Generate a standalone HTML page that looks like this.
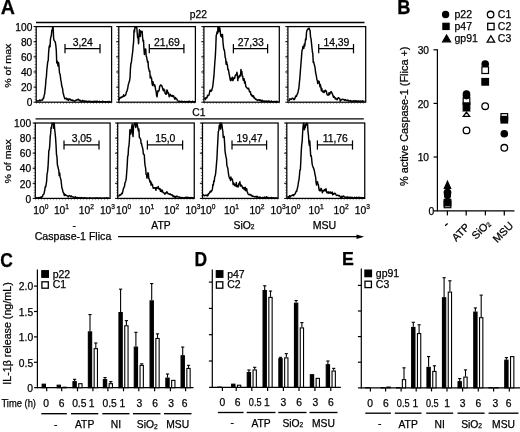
<!DOCTYPE html>
<html><head><meta charset="utf-8"><style>
html,body{margin:0;padding:0;background:#fff;}
svg{display:block;filter:grayscale(1) blur(0.3px);}
text{font-family:"Liberation Sans",sans-serif;fill:#000;stroke:#000;stroke-width:0.25px;}
</style></head><body>
<svg width="520" height="432" viewBox="0 0 520 432">
<rect width="520" height="432" fill="#fff"/>
<text x="0.70" y="13.80" font-size="20" font-weight="bold" textLength="14.2" lengthAdjust="spacingAndGlyphs" >A</text>
<text x="198.40" y="17.90" font-size="10.3" text-anchor="middle" >p22</text>
<line x1="36.00" y1="22.50" x2="364.50" y2="22.50" stroke="#000" stroke-width="1.3" />
<text x="198.90" y="115.50" font-size="10.3" text-anchor="middle" >C1</text>
<line x1="35.50" y1="118.90" x2="363.80" y2="118.90" stroke="#000" stroke-width="1.3" />
<line x1="35.30" y1="26.60" x2="35.30" y2="102.20" stroke="#777" stroke-width="1.6" stroke-dasharray="0.7 2.2"/>
<line x1="36.20" y1="103.20" x2="111.60" y2="103.20" stroke="#888" stroke-width="1.6" stroke-dasharray="0.7 2.3"/>
<polyline points="36.50,101.00 36.95,100.84 37.40,100.97 37.85,101.13 38.30,100.92 38.75,101.06 39.20,100.61 39.65,100.06 40.10,100.70 40.55,100.69 41.00,100.15 41.45,99.99 41.90,99.88 42.35,100.15 42.80,99.51 43.25,97.97 43.70,98.15 44.15,95.34 44.60,94.15 45.05,89.94 45.50,86.03 45.95,79.39 46.40,76.64 46.85,69.78 47.30,65.60 47.75,61.68 48.20,60.72 48.65,52.07 49.10,47.10 49.55,45.33 50.00,46.89 50.45,39.41 50.90,36.59 51.35,35.59 51.80,30.35 52.25,30.36 52.70,26.90 53.15,27.80 53.60,37.61 54.05,40.30 54.50,40.95 54.95,41.33 55.40,42.80 55.85,45.66 56.30,50.48 56.75,62.92 57.20,61.12 57.65,63.62 58.10,66.11 58.55,62.43 59.00,66.25 59.45,72.73 59.90,73.71 60.35,76.05 60.80,80.10 61.25,81.84 61.70,85.73 62.15,87.25 62.60,88.69 63.05,93.01 63.50,94.10 63.95,96.37 64.40,97.22 64.85,98.71 65.30,98.86 65.75,98.76 66.20,98.26 66.65,98.26 67.10,99.71 67.55,99.50 68.00,98.82 68.45,100.26 68.90,99.55 69.35,99.44 69.80,98.84 70.25,99.28 70.70,99.97 71.15,100.18 71.60,100.33 72.05,99.80 72.50,100.65 72.95,100.68 73.40,100.50 73.85,100.75 74.30,100.85 74.75,101.25 75.20,100.81 75.65,100.76 76.10,99.90 76.55,99.87 77.00,99.95 77.45,99.40 77.90,99.83 78.35,99.34 78.80,99.98 79.25,99.88 79.70,100.82 80.15,100.30 80.60,101.23 81.05,101.48 81.50,101.00 81.95,101.24 82.40,100.92 82.85,100.29 83.30,101.32 83.75,101.29 84.20,101.07 84.65,101.03 85.10,101.27 85.55,101.32 86.00,101.09 86.45,101.19 86.90,101.66 87.35,101.42 87.80,101.40 88.25,101.70 88.70,101.36 89.15,101.66 89.60,101.19 90.05,101.40 90.50,101.43 90.95,101.62 91.40,101.50 91.85,101.99 92.30,101.77 92.75,101.40 93.20,102.03 93.65,101.30 94.10,101.95 94.55,101.34 95.00,101.74 95.45,101.35 95.90,101.51 96.35,101.92 96.80,101.26 97.25,101.23 97.70,101.59 98.15,101.65 98.60,101.63 99.05,101.83 99.50,101.35 99.95,101.74 100.40,101.63 100.85,101.81 101.30,101.78 101.75,101.93 102.20,101.37 102.65,101.69 103.10,101.46 103.55,101.67 104.00,101.83 104.45,101.76 104.90,101.82 105.35,101.70 105.80,101.79 106.25,101.78 106.70,102.01 107.15,101.90 107.60,101.41 108.05,101.89 108.50,101.97 108.95,101.70 109.40,101.50 109.85,102.06 110.30,101.83 110.75,101.92" fill="none" stroke="#000" stroke-width="1.45" stroke-linejoin="round"/>
<rect x="36.20" y="26.60" width="75.40" height="75.60" fill="none" stroke="#000" stroke-width="1.25"/>
<line x1="65.00" y1="48.60" x2="100.00" y2="48.60" stroke="#000" stroke-width="1.25" />
<line x1="65.00" y1="44.10" x2="65.00" y2="53.30" stroke="#000" stroke-width="1.25" />
<line x1="100.00" y1="44.10" x2="100.00" y2="53.30" stroke="#000" stroke-width="1.25" />
<text x="82.80" y="45.70" font-size="10.4" text-anchor="middle" >3,24</text>
<line x1="117.90" y1="26.60" x2="117.90" y2="102.20" stroke="#777" stroke-width="1.6" stroke-dasharray="0.7 2.2"/>
<line x1="118.80" y1="103.20" x2="195.40" y2="103.20" stroke="#888" stroke-width="1.6" stroke-dasharray="0.7 2.3"/>
<polyline points="119.20,100.12 119.65,97.92 120.10,97.68 120.55,97.48 121.00,97.88 121.45,96.94 121.90,97.25 122.35,96.50 122.80,96.75 123.25,96.58 123.70,94.79 124.15,96.33 124.60,95.88 125.05,95.51 125.50,95.23 125.95,94.29 126.40,91.91 126.85,91.44 127.30,89.90 127.75,88.27 128.20,85.05 128.65,83.75 129.10,81.85 129.55,80.86 130.00,77.78 130.45,68.59 130.90,63.57 131.35,62.60 131.80,58.54 132.25,55.01 132.70,51.60 133.15,46.17 133.60,41.87 134.05,30.09 134.50,31.96 134.95,26.90 135.40,26.90 135.85,27.49 136.30,26.90 136.75,26.90 137.20,32.59 137.65,37.70 138.10,36.70 138.55,43.70 139.00,35.28 139.45,29.76 139.90,35.45 140.35,36.49 140.80,30.95 141.25,31.84 141.70,32.12 142.15,31.42 142.60,37.41 143.05,41.25 143.50,40.29 143.95,48.73 144.40,54.51 144.85,49.54 145.30,49.13 145.75,48.94 146.20,56.43 146.65,57.01 147.10,59.80 147.55,62.15 148.00,61.34 148.45,67.68 148.90,69.02 149.35,71.36 149.80,70.79 150.25,78.01 150.70,76.07 151.15,77.98 151.60,78.32 152.05,83.40 152.50,85.43 152.95,81.75 153.40,83.83 153.85,84.62 154.30,85.99 154.75,84.85 155.20,86.86 155.65,89.97 156.10,91.06 156.55,95.27 157.00,96.79 157.45,93.58 157.90,90.82 158.35,90.89 158.80,91.02 159.25,89.67 159.70,86.10 160.15,85.99 160.60,84.89 161.05,84.99 161.50,85.82 161.95,86.01 162.40,87.68 162.85,89.27 163.30,90.61 163.75,88.95 164.20,90.97 164.65,90.03 165.10,93.41 165.55,93.67 166.00,94.31 166.45,94.16 166.90,89.92 167.35,90.65 167.80,92.93 168.25,92.61 168.70,93.88 169.15,96.76 169.60,94.39 170.05,94.65 170.50,94.53 170.95,95.94 171.40,95.77 171.85,96.17 172.30,95.43 172.75,96.21 173.20,96.60 173.65,95.79 174.10,97.67 174.55,98.00 175.00,99.29 175.45,97.57 175.90,98.23 176.35,98.56 176.80,99.17 177.25,100.13 177.70,100.68 178.15,101.08 178.60,101.29 179.05,101.46 179.50,101.13 179.95,101.37 180.40,101.53 180.85,101.67 181.30,101.68 181.75,101.14 182.20,101.42 182.65,101.53 183.10,101.63 183.55,101.82 184.00,101.58 184.45,101.36 184.90,101.67 185.35,101.63 185.80,101.64 186.25,101.56 186.70,101.97 187.15,101.66 187.60,101.80 188.05,101.41 188.50,101.79 188.95,101.49 189.40,101.28 189.85,101.71 190.30,101.78 190.75,101.60 191.20,101.65 191.65,101.88 192.10,101.56 192.55,101.23 193.00,101.73 193.45,101.72 193.90,101.91 194.35,101.62 194.80,101.96" fill="none" stroke="#000" stroke-width="1.45" stroke-linejoin="round"/>
<rect x="118.80" y="26.60" width="76.60" height="75.60" fill="none" stroke="#000" stroke-width="1.25"/>
<line x1="149.30" y1="48.60" x2="183.90" y2="48.60" stroke="#000" stroke-width="1.25" />
<line x1="149.30" y1="44.10" x2="149.30" y2="53.30" stroke="#000" stroke-width="1.25" />
<line x1="183.90" y1="44.10" x2="183.90" y2="53.30" stroke="#000" stroke-width="1.25" />
<text x="166.90" y="45.70" font-size="10.4" text-anchor="middle" >21,69</text>
<line x1="203.00" y1="26.60" x2="203.00" y2="102.20" stroke="#777" stroke-width="1.6" stroke-dasharray="0.7 2.2"/>
<line x1="203.90" y1="103.20" x2="279.30" y2="103.20" stroke="#888" stroke-width="1.6" stroke-dasharray="0.7 2.3"/>
<polyline points="204.50,99.14 204.95,98.01 205.40,99.44 205.85,98.15 206.30,97.54 206.75,97.95 207.20,97.06 207.65,95.16 208.10,95.83 208.55,95.27 209.00,95.03 209.45,92.89 209.90,90.58 210.35,90.14 210.80,91.18 211.25,91.09 211.70,90.72 212.15,88.51 212.60,87.32 213.05,83.86 213.50,79.82 213.95,75.43 214.40,68.74 214.85,62.28 215.30,56.57 215.75,48.30 216.20,35.47 216.65,34.29 217.10,31.74 217.55,33.40 218.00,26.90 218.45,31.80 218.90,31.48 219.35,26.90 219.80,28.18 220.25,31.17 220.70,35.91 221.15,34.37 221.60,36.97 222.05,36.06 222.50,34.55 222.95,41.70 223.40,46.28 223.85,49.63 224.30,49.66 224.75,52.75 225.20,57.67 225.65,58.30 226.10,64.19 226.55,61.77 227.00,63.75 227.45,65.46 227.90,69.64 228.35,69.39 228.80,71.92 229.25,74.53 229.70,76.63 230.15,79.38 230.60,80.63 231.05,78.14 231.50,80.05 231.95,79.19 232.40,77.14 232.85,80.63 233.30,79.45 233.75,78.21 234.20,77.60 234.65,78.45 235.10,76.07 235.55,75.07 236.00,75.15 236.45,74.56 236.90,72.21 237.35,74.45 237.80,80.64 238.25,76.92 238.70,77.78 239.15,75.93 239.60,76.75 240.05,75.01 240.50,75.79 240.95,69.38 241.40,73.95 241.85,71.44 242.30,76.21 242.75,76.30 243.20,80.23 243.65,79.43 244.10,78.69 244.55,83.10 245.00,81.30 245.45,83.74 245.90,86.78 246.35,87.00 246.80,87.83 247.25,88.26 247.70,88.77 248.15,88.95 248.60,88.21 249.05,89.87 249.50,91.77 249.95,91.72 250.40,91.71 250.85,94.76 251.30,94.30 251.75,95.67 252.20,96.35 252.65,95.42 253.10,96.87 253.55,95.92 254.00,97.91 254.45,97.61 254.90,98.43 255.35,99.17 255.80,98.89 256.25,99.64 256.70,99.47 257.15,99.97 257.60,100.56 258.05,100.09 258.50,99.98 258.95,99.52 259.40,100.32 259.85,100.01 260.30,100.86 260.75,99.95 261.20,100.79 261.65,101.18 262.10,100.61 262.55,100.30 263.00,101.36 263.45,101.29 263.90,101.21 264.35,101.38 264.80,100.93 265.25,101.35 265.70,101.35 266.15,100.99 266.60,101.43 267.05,101.11 267.50,101.55 267.95,101.65 268.40,101.85 268.85,100.87 269.30,101.49 269.75,101.35 270.20,101.44 270.65,101.41 271.10,101.45 271.55,100.99 272.00,101.75 272.45,101.89 272.90,101.77 273.35,101.86 273.80,101.37 274.25,101.37 274.70,101.80 275.15,101.92 275.60,101.69 276.05,101.30 276.50,102.20 276.95,101.53 277.40,101.90 277.85,101.45 278.30,101.92" fill="none" stroke="#000" stroke-width="1.45" stroke-linejoin="round"/>
<rect x="203.90" y="26.60" width="75.40" height="75.60" fill="none" stroke="#000" stroke-width="1.25"/>
<line x1="233.40" y1="48.60" x2="267.60" y2="48.60" stroke="#000" stroke-width="1.25" />
<line x1="233.40" y1="44.10" x2="233.40" y2="53.30" stroke="#000" stroke-width="1.25" />
<line x1="267.60" y1="44.10" x2="267.60" y2="53.30" stroke="#000" stroke-width="1.25" />
<text x="250.80" y="45.70" font-size="10.4" text-anchor="middle" >27,33</text>
<line x1="287.00" y1="26.60" x2="287.00" y2="102.20" stroke="#777" stroke-width="1.6" stroke-dasharray="0.7 2.2"/>
<line x1="287.90" y1="103.20" x2="365.70" y2="103.20" stroke="#888" stroke-width="1.6" stroke-dasharray="0.7 2.3"/>
<polyline points="288.50,100.22 288.95,100.60 289.40,100.20 289.85,98.85 290.30,98.88 290.75,99.29 291.20,99.19 291.65,99.38 292.10,98.31 292.55,98.24 293.00,98.42 293.45,98.61 293.90,99.65 294.35,99.46 294.80,98.77 295.25,97.29 295.70,95.98 296.15,96.46 296.60,96.08 297.05,94.46 297.50,93.70 297.95,92.61 298.40,90.08 298.85,88.57 299.30,83.37 299.75,79.07 300.20,73.30 300.65,67.40 301.10,61.91 301.55,56.38 302.00,50.30 302.45,49.60 302.90,46.58 303.35,46.21 303.80,48.38 304.25,44.19 304.70,46.05 305.15,42.77 305.60,38.71 306.05,39.79 306.50,32.43 306.95,30.42 307.40,29.80 307.85,29.15 308.30,28.29 308.75,29.22 309.20,28.18 309.65,29.89 310.10,30.67 310.55,37.17 311.00,38.19 311.45,42.79 311.90,47.22 312.35,51.51 312.80,53.60 313.25,62.57 313.70,61.89 314.15,64.00 314.60,65.64 315.05,67.56 315.50,71.74 315.95,74.07 316.40,76.20 316.85,79.18 317.30,80.37 317.75,83.60 318.20,81.68 318.65,81.10 319.10,81.57 319.55,83.62 320.00,86.88 320.45,84.82 320.90,87.09 321.35,90.73 321.80,88.37 322.25,91.28 322.70,91.92 323.15,92.12 323.60,90.99 324.05,92.55 324.50,91.94 324.95,90.54 325.40,90.20 325.85,91.33 326.30,90.96 326.75,93.37 327.20,94.79 327.65,94.76 328.10,95.19 328.55,94.06 329.00,92.70 329.45,94.64 329.90,93.92 330.35,92.46 330.80,91.82 331.25,91.55 331.70,92.64 332.15,93.77 332.60,94.10 333.05,96.09 333.50,97.30 333.95,96.31 334.40,97.39 334.85,97.48 335.30,98.96 335.75,98.35 336.20,98.68 336.65,98.94 337.10,99.84 337.55,98.85 338.00,97.88 338.45,97.71 338.90,97.89 339.35,98.34 339.80,98.77 340.25,101.17 340.70,100.12 341.15,99.99 341.60,99.91 342.05,99.21 342.50,99.22 342.95,99.37 343.40,99.52 343.85,99.48 344.30,100.26 344.75,100.22 345.20,99.95 345.65,99.59 346.10,100.50 346.55,100.51 347.00,100.47 347.45,100.10 347.90,100.67 348.35,100.18 348.80,101.11 349.25,100.87 349.70,100.92 350.15,100.62 350.60,100.58 351.05,101.48 351.50,101.32 351.95,100.96 352.40,101.31 352.85,101.58 353.30,100.77 353.75,100.94 354.20,100.94 354.65,101.25 355.10,100.78 355.55,101.18 356.00,100.76 356.45,101.39 356.90,101.37 357.35,101.04 357.80,101.32 358.25,100.91 358.70,101.08 359.15,101.47 359.60,101.20 360.05,101.35 360.50,101.02 360.95,101.49 361.40,101.47 361.85,101.05 362.30,100.81 362.75,100.92 363.20,101.46 363.65,101.45 364.10,101.16 364.55,101.60" fill="none" stroke="#000" stroke-width="1.45" stroke-linejoin="round"/>
<rect x="287.90" y="26.60" width="77.80" height="75.60" fill="none" stroke="#000" stroke-width="1.25"/>
<line x1="318.70" y1="48.60" x2="353.50" y2="48.60" stroke="#000" stroke-width="1.25" />
<line x1="318.70" y1="44.10" x2="318.70" y2="53.30" stroke="#000" stroke-width="1.25" />
<line x1="353.50" y1="44.10" x2="353.50" y2="53.30" stroke="#000" stroke-width="1.25" />
<text x="336.40" y="45.70" font-size="10.4" text-anchor="middle" >14,39</text>
<line x1="33.60" y1="26.60" x2="36.20" y2="26.60" stroke="#000" stroke-width="1.0" />
<line x1="33.60" y1="41.72" x2="36.20" y2="41.72" stroke="#000" stroke-width="1.0" />
<line x1="33.60" y1="56.84" x2="36.20" y2="56.84" stroke="#000" stroke-width="1.0" />
<line x1="33.60" y1="71.96" x2="36.20" y2="71.96" stroke="#000" stroke-width="1.0" />
<line x1="33.60" y1="87.08" x2="36.20" y2="87.08" stroke="#000" stroke-width="1.0" />
<line x1="33.60" y1="102.20" x2="36.20" y2="102.20" stroke="#000" stroke-width="1.0" />
<line x1="116.20" y1="26.60" x2="118.80" y2="26.60" stroke="#000" stroke-width="1.0" />
<line x1="116.20" y1="41.72" x2="118.80" y2="41.72" stroke="#000" stroke-width="1.0" />
<line x1="116.20" y1="56.84" x2="118.80" y2="56.84" stroke="#000" stroke-width="1.0" />
<line x1="116.20" y1="71.96" x2="118.80" y2="71.96" stroke="#000" stroke-width="1.0" />
<line x1="116.20" y1="87.08" x2="118.80" y2="87.08" stroke="#000" stroke-width="1.0" />
<line x1="116.20" y1="102.20" x2="118.80" y2="102.20" stroke="#000" stroke-width="1.0" />
<line x1="201.30" y1="26.60" x2="203.90" y2="26.60" stroke="#000" stroke-width="1.0" />
<line x1="201.30" y1="41.72" x2="203.90" y2="41.72" stroke="#000" stroke-width="1.0" />
<line x1="201.30" y1="56.84" x2="203.90" y2="56.84" stroke="#000" stroke-width="1.0" />
<line x1="201.30" y1="71.96" x2="203.90" y2="71.96" stroke="#000" stroke-width="1.0" />
<line x1="201.30" y1="87.08" x2="203.90" y2="87.08" stroke="#000" stroke-width="1.0" />
<line x1="201.30" y1="102.20" x2="203.90" y2="102.20" stroke="#000" stroke-width="1.0" />
<line x1="285.30" y1="26.60" x2="287.90" y2="26.60" stroke="#000" stroke-width="1.0" />
<line x1="285.30" y1="41.72" x2="287.90" y2="41.72" stroke="#000" stroke-width="1.0" />
<line x1="285.30" y1="56.84" x2="287.90" y2="56.84" stroke="#000" stroke-width="1.0" />
<line x1="285.30" y1="71.96" x2="287.90" y2="71.96" stroke="#000" stroke-width="1.0" />
<line x1="285.30" y1="87.08" x2="287.90" y2="87.08" stroke="#000" stroke-width="1.0" />
<line x1="285.30" y1="102.20" x2="287.90" y2="102.20" stroke="#000" stroke-width="1.0" />
<text x="32.30" y="30.80" font-size="10.2" text-anchor="end" >100</text>
<text x="32.30" y="45.92" font-size="10.2" text-anchor="end" >80</text>
<text x="32.30" y="61.04" font-size="10.2" text-anchor="end" >60</text>
<text x="32.30" y="76.16" font-size="10.2" text-anchor="end" >40</text>
<text x="32.30" y="91.28" font-size="10.2" text-anchor="end" >20</text>
<text x="32.30" y="106.40" font-size="10.2" text-anchor="end" >0</text>
<line x1="34.40" y1="123.00" x2="34.40" y2="198.40" stroke="#777" stroke-width="1.6" stroke-dasharray="0.7 2.2"/>
<line x1="35.30" y1="199.40" x2="110.10" y2="199.40" stroke="#888" stroke-width="1.6" stroke-dasharray="0.7 2.3"/>
<polyline points="35.80,198.11 36.25,197.83 36.70,197.71 37.15,197.97 37.60,198.13 38.05,198.05 38.50,197.46 38.95,197.80 39.40,197.58 39.85,197.44 40.30,197.27 40.75,197.51 41.20,196.96 41.65,197.17 42.10,196.68 42.55,196.48 43.00,194.68 43.45,194.58 43.90,194.05 44.35,191.89 44.80,189.81 45.25,186.71 45.70,186.94 46.15,184.26 46.60,181.35 47.05,173.95 47.50,172.17 47.95,167.94 48.40,160.15 48.85,150.21 49.30,149.86 49.75,145.52 50.20,136.88 50.65,133.38 51.10,127.20 51.55,128.41 52.00,123.30 52.45,123.30 52.90,123.48 53.35,123.30 53.80,128.38 54.25,123.30 54.70,129.54 55.15,133.46 55.60,138.25 56.05,145.32 56.50,154.59 56.95,156.62 57.40,165.11 57.85,166.26 58.30,168.60 58.75,170.04 59.20,175.58 59.65,172.85 60.10,176.89 60.55,178.41 61.00,179.75 61.45,184.01 61.90,187.84 62.35,188.79 62.80,191.12 63.25,192.48 63.70,192.94 64.15,195.17 64.60,194.08 65.05,195.49 65.50,194.76 65.95,195.18 66.40,195.43 66.85,195.45 67.30,195.89 67.75,196.18 68.20,196.92 68.65,196.41 69.10,195.62 69.55,195.56 70.00,195.84 70.45,196.10 70.90,196.69 71.35,195.89 71.80,196.63 72.25,196.76 72.70,196.96 73.15,196.93 73.60,197.23 74.05,197.22 74.50,197.64 74.95,197.52 75.40,196.80 75.85,197.54 76.30,197.65 76.75,197.50 77.20,197.52 77.65,198.02 78.10,197.85 78.55,197.61 79.00,197.77 79.45,197.82 79.90,197.52 80.35,198.03 80.80,197.88 81.25,198.02 81.70,197.61 82.15,198.34 82.60,198.09 83.05,198.07 83.50,197.85 83.95,197.88 84.40,197.74 84.85,198.30 85.30,197.86 85.75,198.06 86.20,198.13 86.65,197.91 87.10,198.18 87.55,198.40 88.00,198.08 88.45,198.30 88.90,198.14 89.35,197.95 89.80,197.96 90.25,197.73 90.70,198.06 91.15,198.31 91.60,198.17 92.05,198.20 92.50,198.25 92.95,197.96 93.40,198.15 93.85,198.39 94.30,197.91 94.75,198.06 95.20,197.98 95.65,198.03 96.10,197.93 96.55,198.04 97.00,197.83 97.45,197.98 97.90,197.98 98.35,197.98 98.80,198.31 99.25,198.09 99.70,198.11 100.15,198.03 100.60,198.30 101.05,197.78 101.50,198.05 101.95,198.28 102.40,198.36 102.85,198.12 103.30,198.09 103.75,198.20 104.20,198.06 104.65,198.19 105.10,197.99 105.55,198.21 106.00,198.09 106.45,197.92 106.90,197.66 107.35,198.26 107.80,198.17 108.25,198.23 108.70,197.97 109.15,198.29 109.60,198.18" fill="none" stroke="#000" stroke-width="1.45" stroke-linejoin="round"/>
<rect x="35.30" y="123.00" width="74.80" height="75.40" fill="none" stroke="#000" stroke-width="1.25"/>
<line x1="64.00" y1="144.90" x2="99.00" y2="144.90" stroke="#000" stroke-width="1.25" />
<line x1="64.00" y1="140.40" x2="64.00" y2="149.60" stroke="#000" stroke-width="1.25" />
<line x1="99.00" y1="140.40" x2="99.00" y2="149.60" stroke="#000" stroke-width="1.25" />
<text x="81.80" y="142.00" font-size="10.4" text-anchor="middle" >3,05</text>
<line x1="116.80" y1="123.00" x2="116.80" y2="198.40" stroke="#777" stroke-width="1.6" stroke-dasharray="0.7 2.2"/>
<line x1="117.70" y1="199.40" x2="194.25" y2="199.40" stroke="#888" stroke-width="1.6" stroke-dasharray="0.7 2.3"/>
<polyline points="118.20,195.61 118.65,196.04 119.10,195.84 119.55,194.86 120.00,195.36 120.45,195.16 120.90,194.74 121.35,193.73 121.80,193.28 122.25,193.65 122.70,191.85 123.15,189.61 123.60,188.33 124.05,187.30 124.50,186.43 124.95,182.84 125.40,182.08 125.85,180.65 126.30,177.63 126.75,171.74 127.20,165.42 127.65,156.41 128.10,155.38 128.55,147.57 129.00,145.76 129.45,139.74 129.90,129.77 130.35,132.17 130.80,133.98 131.25,130.10 131.70,127.11 132.15,124.01 132.60,133.00 133.05,136.55 133.50,127.36 133.95,124.96 134.40,123.46 134.85,123.30 135.30,123.30 135.75,127.46 136.20,125.89 136.65,123.30 137.10,123.30 137.55,126.21 138.00,129.19 138.45,131.13 138.90,129.03 139.35,137.47 139.80,137.82 140.25,138.70 140.70,139.47 141.15,143.57 141.60,143.57 142.05,146.52 142.50,147.49 142.95,149.87 143.40,154.18 143.85,154.19 144.30,155.10 144.75,162.56 145.20,166.21 145.65,168.23 146.10,174.44 146.55,174.70 147.00,178.20 147.45,175.43 147.90,172.82 148.35,173.29 148.80,178.40 149.25,178.88 149.70,180.99 150.15,182.24 150.60,181.14 151.05,185.09 151.50,182.97 151.95,185.08 152.40,184.47 152.85,186.70 153.30,188.25 153.75,187.91 154.20,187.74 154.65,188.25 155.10,187.66 155.55,188.52 156.00,190.22 156.45,187.48 156.90,187.83 157.35,188.31 157.80,187.93 158.25,186.53 158.70,188.31 159.15,189.22 159.60,189.42 160.05,188.70 160.50,191.39 160.95,189.62 161.40,191.30 161.85,191.82 162.30,190.11 162.75,191.51 163.20,192.74 163.65,192.79 164.10,192.85 164.55,193.54 165.00,194.24 165.45,193.40 165.90,192.73 166.35,193.05 166.80,191.67 167.25,192.32 167.70,193.31 168.15,193.84 168.60,193.62 169.05,193.80 169.50,194.38 169.95,194.56 170.40,193.92 170.85,194.75 171.30,194.69 171.75,194.85 172.20,195.46 172.65,194.98 173.10,196.67 173.55,196.23 174.00,196.85 174.45,196.21 174.90,196.47 175.35,197.69 175.80,197.22 176.25,196.47 176.70,196.27 177.15,196.28 177.60,196.83 178.05,196.86 178.50,196.95 178.95,197.30 179.40,197.08 179.85,198.14 180.30,197.43 180.75,197.96 181.20,197.46 181.65,197.76 182.10,197.92 182.55,197.61 183.00,197.93 183.45,197.93 183.90,198.09 184.35,197.71 184.80,197.57 185.25,197.40 185.70,197.67 186.15,197.33 186.60,197.58 187.05,197.58 187.50,197.36 187.95,197.20 188.40,197.63 188.85,197.63 189.30,197.64 189.75,197.60 190.20,197.88 190.65,197.42 191.10,197.81 191.55,197.63 192.00,197.97 192.45,197.71 192.90,197.74 193.35,197.95 193.80,197.45" fill="none" stroke="#000" stroke-width="1.45" stroke-linejoin="round"/>
<rect x="117.70" y="123.00" width="76.55" height="75.40" fill="none" stroke="#000" stroke-width="1.25"/>
<line x1="147.40" y1="144.90" x2="182.60" y2="144.90" stroke="#000" stroke-width="1.25" />
<line x1="147.40" y1="140.40" x2="147.40" y2="149.60" stroke="#000" stroke-width="1.25" />
<line x1="182.60" y1="140.40" x2="182.60" y2="149.60" stroke="#000" stroke-width="1.25" />
<text x="165.30" y="142.00" font-size="10.4" text-anchor="middle" >15,0</text>
<line x1="201.60" y1="123.00" x2="201.60" y2="198.40" stroke="#777" stroke-width="1.6" stroke-dasharray="0.7 2.2"/>
<line x1="202.50" y1="199.40" x2="278.10" y2="199.40" stroke="#888" stroke-width="1.6" stroke-dasharray="0.7 2.3"/>
<polyline points="203.00,195.62 203.45,194.78 203.90,195.04 204.35,195.84 204.80,195.70 205.25,195.28 205.70,195.37 206.15,195.22 206.60,195.26 207.05,195.92 207.50,194.73 207.95,195.65 208.40,193.77 208.85,193.85 209.30,193.23 209.75,192.24 210.20,191.28 210.65,192.10 211.10,191.84 211.55,190.53 212.00,190.56 212.45,188.67 212.90,184.55 213.35,185.22 213.80,181.02 214.25,181.44 214.70,177.09 215.15,176.01 215.60,173.69 216.05,169.18 216.50,163.61 216.95,158.23 217.40,148.59 217.85,140.41 218.30,131.69 218.75,130.96 219.20,125.50 219.65,126.31 220.10,123.30 220.55,129.08 221.00,123.86 221.45,123.30 221.90,124.70 222.35,128.28 222.80,131.02 223.25,137.37 223.70,137.45 224.15,136.40 224.60,142.97 225.05,151.06 225.50,154.02 225.95,156.69 226.40,158.24 226.85,164.82 227.30,166.98 227.75,167.88 228.20,171.51 228.65,174.83 229.10,176.76 229.55,178.22 230.00,177.75 230.45,180.45 230.90,176.98 231.35,179.67 231.80,179.52 232.25,179.09 232.70,180.89 233.15,184.55 233.60,182.98 234.05,183.43 234.50,185.50 234.95,185.58 235.40,184.49 235.85,186.02 236.30,182.38 236.75,186.64 237.20,185.72 237.65,186.29 238.10,187.01 238.55,184.68 239.00,183.35 239.45,183.62 239.90,181.73 240.35,186.05 240.80,184.33 241.25,185.87 241.70,185.69 242.15,186.36 242.60,188.16 243.05,188.43 243.50,187.60 243.95,188.44 244.40,189.69 244.85,187.53 245.30,187.32 245.75,190.72 246.20,189.38 246.65,188.70 247.10,191.21 247.55,192.60 248.00,193.83 248.45,194.41 248.90,194.43 249.35,194.85 249.80,194.27 250.25,194.93 250.70,194.95 251.15,195.39 251.60,195.13 252.05,196.14 252.50,196.38 252.95,195.96 253.40,196.36 253.85,196.42 254.30,196.56 254.75,196.68 255.20,196.75 255.65,196.82 256.10,196.40 256.55,197.12 257.00,196.29 257.45,196.90 257.90,197.29 258.35,197.30 258.80,197.47 259.25,197.28 259.70,197.60 260.15,197.11 260.60,197.72 261.05,198.18 261.50,197.81 261.95,198.18 262.40,197.70 262.85,197.40 263.30,197.48 263.75,197.98 264.20,197.81 264.65,197.10 265.10,197.47 265.55,197.54 266.00,197.22 266.45,196.82 266.90,197.20 267.35,197.57 267.80,197.56 268.25,197.54 268.70,197.89 269.15,198.03 269.60,197.82 270.05,198.08 270.50,197.91 270.95,197.88 271.40,197.40 271.85,198.08 272.30,197.93 272.75,197.93 273.20,197.81 273.65,197.68 274.10,198.00 274.55,198.07 275.00,198.25 275.45,198.10 275.90,197.79 276.35,197.89 276.80,198.12 277.25,197.98 277.70,197.89" fill="none" stroke="#000" stroke-width="1.45" stroke-linejoin="round"/>
<rect x="202.50" y="123.00" width="75.60" height="75.40" fill="none" stroke="#000" stroke-width="1.25"/>
<line x1="232.00" y1="144.90" x2="266.60" y2="144.90" stroke="#000" stroke-width="1.25" />
<line x1="232.00" y1="140.40" x2="232.00" y2="149.60" stroke="#000" stroke-width="1.25" />
<line x1="266.60" y1="140.40" x2="266.60" y2="149.60" stroke="#000" stroke-width="1.25" />
<text x="249.60" y="142.00" font-size="10.4" text-anchor="middle" >19,47</text>
<line x1="285.90" y1="123.00" x2="285.90" y2="198.40" stroke="#777" stroke-width="1.6" stroke-dasharray="0.7 2.2"/>
<line x1="286.80" y1="199.40" x2="364.75" y2="199.40" stroke="#888" stroke-width="1.6" stroke-dasharray="0.7 2.3"/>
<polyline points="287.30,196.61 287.75,196.97 288.20,196.76 288.65,197.30 289.10,196.94 289.55,195.66 290.00,197.17 290.45,196.21 290.90,195.80 291.35,195.82 291.80,195.78 292.25,195.12 292.70,194.90 293.15,194.78 293.60,195.67 294.05,194.42 294.50,194.57 294.95,194.09 295.40,193.18 295.85,192.09 296.30,191.09 296.75,191.36 297.20,188.83 297.65,187.23 298.10,184.63 298.55,181.56 299.00,179.59 299.45,175.30 299.90,169.97 300.35,170.02 300.80,161.55 301.25,151.11 301.70,144.60 302.15,141.94 302.60,133.22 303.05,126.86 303.50,123.30 303.95,123.30 304.40,129.65 304.85,127.28 305.30,127.55 305.75,124.28 306.20,125.25 306.65,123.30 307.10,123.30 307.55,124.03 308.00,131.71 308.45,135.31 308.90,142.25 309.35,145.42 309.80,140.86 310.25,148.39 310.70,155.94 311.15,155.47 311.60,158.12 312.05,163.10 312.50,165.64 312.95,166.96 313.40,167.67 313.85,168.94 314.30,170.56 314.75,172.98 315.20,175.30 315.65,177.36 316.10,182.55 316.55,185.04 317.00,182.06 317.45,181.75 317.90,184.08 318.35,184.52 318.80,188.01 319.25,190.30 319.70,189.39 320.15,190.93 320.60,190.02 321.05,188.36 321.50,189.18 321.95,190.72 322.40,192.86 322.85,191.10 323.30,190.62 323.75,191.04 324.20,190.18 324.65,189.51 325.10,190.68 325.55,190.69 326.00,188.72 326.45,191.55 326.90,192.75 327.35,192.07 327.80,192.40 328.25,193.24 328.70,191.85 329.15,192.50 329.60,192.92 330.05,192.25 330.50,192.00 330.95,193.29 331.40,192.89 331.85,193.51 332.30,192.10 332.75,194.78 333.20,193.52 333.65,194.18 334.10,194.02 334.55,193.26 335.00,193.44 335.45,193.57 335.90,194.48 336.35,195.31 336.80,195.51 337.25,195.19 337.70,195.41 338.15,195.19 338.60,195.78 339.05,195.60 339.50,195.53 339.95,196.34 340.40,197.22 340.85,197.28 341.30,197.50 341.75,196.33 342.20,197.16 342.65,196.30 343.10,196.47 343.55,195.94 344.00,196.34 344.45,196.97 344.90,197.19 345.35,197.28 345.80,197.27 346.25,197.50 346.70,197.37 347.15,196.88 347.60,197.90 348.05,197.34 348.50,197.70 348.95,197.40 349.40,197.24 349.85,197.52 350.30,197.30 350.75,197.99 351.20,197.26 351.65,197.75 352.10,197.44 352.55,197.57 353.00,198.32 353.45,197.85 353.90,197.61 354.35,197.29 354.80,197.63 355.25,197.65 355.70,198.08 356.15,197.40 356.60,197.33 357.05,197.77 357.50,197.84 357.95,198.18 358.40,197.59 358.85,197.17 359.30,197.63 359.75,197.51 360.20,197.67 360.65,198.03 361.10,197.49 361.55,198.09 362.00,197.85 362.45,197.74 362.90,197.59 363.35,197.70 363.80,197.71 364.25,197.98" fill="none" stroke="#000" stroke-width="1.45" stroke-linejoin="round"/>
<rect x="286.80" y="123.00" width="77.95" height="75.40" fill="none" stroke="#000" stroke-width="1.25"/>
<line x1="317.40" y1="144.90" x2="352.50" y2="144.90" stroke="#000" stroke-width="1.25" />
<line x1="317.40" y1="140.40" x2="317.40" y2="149.60" stroke="#000" stroke-width="1.25" />
<line x1="352.50" y1="140.40" x2="352.50" y2="149.60" stroke="#000" stroke-width="1.25" />
<text x="335.25" y="142.00" font-size="10.4" text-anchor="middle" >11,76</text>
<line x1="32.70" y1="123.00" x2="35.30" y2="123.00" stroke="#000" stroke-width="1.0" />
<line x1="32.70" y1="138.08" x2="35.30" y2="138.08" stroke="#000" stroke-width="1.0" />
<line x1="32.70" y1="153.16" x2="35.30" y2="153.16" stroke="#000" stroke-width="1.0" />
<line x1="32.70" y1="168.24" x2="35.30" y2="168.24" stroke="#000" stroke-width="1.0" />
<line x1="32.70" y1="183.32" x2="35.30" y2="183.32" stroke="#000" stroke-width="1.0" />
<line x1="32.70" y1="198.40" x2="35.30" y2="198.40" stroke="#000" stroke-width="1.0" />
<line x1="115.10" y1="123.00" x2="117.70" y2="123.00" stroke="#000" stroke-width="1.0" />
<line x1="115.10" y1="138.08" x2="117.70" y2="138.08" stroke="#000" stroke-width="1.0" />
<line x1="115.10" y1="153.16" x2="117.70" y2="153.16" stroke="#000" stroke-width="1.0" />
<line x1="115.10" y1="168.24" x2="117.70" y2="168.24" stroke="#000" stroke-width="1.0" />
<line x1="115.10" y1="183.32" x2="117.70" y2="183.32" stroke="#000" stroke-width="1.0" />
<line x1="115.10" y1="198.40" x2="117.70" y2="198.40" stroke="#000" stroke-width="1.0" />
<line x1="199.90" y1="123.00" x2="202.50" y2="123.00" stroke="#000" stroke-width="1.0" />
<line x1="199.90" y1="138.08" x2="202.50" y2="138.08" stroke="#000" stroke-width="1.0" />
<line x1="199.90" y1="153.16" x2="202.50" y2="153.16" stroke="#000" stroke-width="1.0" />
<line x1="199.90" y1="168.24" x2="202.50" y2="168.24" stroke="#000" stroke-width="1.0" />
<line x1="199.90" y1="183.32" x2="202.50" y2="183.32" stroke="#000" stroke-width="1.0" />
<line x1="199.90" y1="198.40" x2="202.50" y2="198.40" stroke="#000" stroke-width="1.0" />
<line x1="284.20" y1="123.00" x2="286.80" y2="123.00" stroke="#000" stroke-width="1.0" />
<line x1="284.20" y1="138.08" x2="286.80" y2="138.08" stroke="#000" stroke-width="1.0" />
<line x1="284.20" y1="153.16" x2="286.80" y2="153.16" stroke="#000" stroke-width="1.0" />
<line x1="284.20" y1="168.24" x2="286.80" y2="168.24" stroke="#000" stroke-width="1.0" />
<line x1="284.20" y1="183.32" x2="286.80" y2="183.32" stroke="#000" stroke-width="1.0" />
<line x1="284.20" y1="198.40" x2="286.80" y2="198.40" stroke="#000" stroke-width="1.0" />
<text x="31.10" y="127.20" font-size="10.2" text-anchor="end" >100</text>
<text x="31.10" y="142.28" font-size="10.2" text-anchor="end" >80</text>
<text x="31.10" y="157.36" font-size="10.2" text-anchor="end" >60</text>
<text x="31.10" y="172.44" font-size="10.2" text-anchor="end" >40</text>
<text x="31.10" y="187.52" font-size="10.2" text-anchor="end" >20</text>
<text x="31.10" y="202.60" font-size="10.2" text-anchor="end" >0</text>
<text x="0" y="0" font-size="9.9" text-anchor="middle" textLength="44.2" lengthAdjust="spacingAndGlyphs" transform="translate(11.4,65.75) rotate(-90)">% of max</text>
<text x="0" y="0" font-size="9.9" text-anchor="middle" textLength="44.2" lengthAdjust="spacingAndGlyphs" transform="translate(11.4,161.30) rotate(-90)">% of max</text>
<text x="33.20" y="214.0" font-size="10.3">10<tspan font-size="6.6" dy="-4.8">0</tspan></text>
<text x="53.90" y="214.0" font-size="10.3">10<tspan font-size="6.6" dy="-4.8">1</tspan></text>
<text x="78.70" y="214.0" font-size="10.3">10<tspan font-size="6.6" dy="-4.8">2</tspan></text>
<text x="99.90" y="214.0" font-size="10.3">10<tspan font-size="6.6" dy="-4.8">3</tspan></text>
<text x="116.00" y="214.0" font-size="10.3">10<tspan font-size="6.6" dy="-4.8">0</tspan></text>
<text x="139.10" y="214.0" font-size="10.3">10<tspan font-size="6.6" dy="-4.8">1</tspan></text>
<text x="164.10" y="214.0" font-size="10.3">10<tspan font-size="6.6" dy="-4.8">2</tspan></text>
<text x="185.40" y="214.0" font-size="10.3">10<tspan font-size="6.6" dy="-4.8">3</tspan></text>
<text x="200.20" y="214.0" font-size="10.3">10<tspan font-size="6.6" dy="-4.8">0</tspan></text>
<text x="223.90" y="214.0" font-size="10.3">10<tspan font-size="6.6" dy="-4.8">1</tspan></text>
<text x="249.40" y="214.0" font-size="10.3">10<tspan font-size="6.6" dy="-4.8">2</tspan></text>
<text x="270.60" y="214.0" font-size="10.3">10<tspan font-size="6.6" dy="-4.8">3</tspan></text>
<text x="285.20" y="214.0" font-size="10.3">10<tspan font-size="6.6" dy="-4.8">0</tspan></text>
<text x="308.50" y="214.0" font-size="10.3">10<tspan font-size="6.6" dy="-4.8">1</tspan></text>
<text x="333.60" y="214.0" font-size="10.3">10<tspan font-size="6.6" dy="-4.8">2</tspan></text>
<text x="354.70" y="214.0" font-size="10.3">10<tspan font-size="6.6" dy="-4.8">3</tspan></text>
<text x="74.10" y="229.40" font-size="10.3" text-anchor="middle" >-</text>
<text x="161.00" y="228.70" font-size="10.3" text-anchor="middle" >ATP</text>
<text x="233.50" y="228.7" font-size="10.4">SiO<tspan font-size="6.6" dy="0.4">2</tspan></text>
<text x="324.50" y="228.60" font-size="10.6" text-anchor="middle" >MSU</text>
<text x="34.70" y="239.60" font-size="10.5" textLength="76.6" lengthAdjust="spacingAndGlyphs" >Caspase-1 Flica</text>
<line x1="118.00" y1="236.70" x2="358.00" y2="236.70" stroke="#000" stroke-width="1.3" />
<polygon points="356.5,234.5 364.2,236.7 356.5,238.9" fill="#000"/>
<text x="397.20" y="13.85" font-size="19.5" font-weight="bold" textLength="13.2" lengthAdjust="spacingAndGlyphs" >B</text>
<line x1="437.40" y1="49.20" x2="437.40" y2="211.20" stroke="#000" stroke-width="1.2" />
<line x1="433.40" y1="210.80" x2="514.50" y2="210.80" stroke="#000" stroke-width="1.25" />
<line x1="433.50" y1="157.00" x2="437.40" y2="157.00" stroke="#000" stroke-width="1.2" />
<text x="429.00" y="161.30" font-size="10.2" text-anchor="end" >10</text>
<line x1="433.50" y1="103.40" x2="437.40" y2="103.40" stroke="#000" stroke-width="1.2" />
<text x="429.00" y="107.70" font-size="10.2" text-anchor="end" >20</text>
<line x1="433.50" y1="49.80" x2="437.40" y2="49.80" stroke="#000" stroke-width="1.2" />
<text x="429.00" y="54.10" font-size="10.2" text-anchor="end" >30</text>
<text x="434.40" y="215.20" font-size="10.4" text-anchor="end" >0</text>
<line x1="447.40" y1="210.80" x2="447.40" y2="215.40" stroke="#000" stroke-width="1.25" />
<line x1="466.20" y1="210.80" x2="466.20" y2="215.40" stroke="#000" stroke-width="1.25" />
<line x1="485.40" y1="210.80" x2="485.40" y2="215.40" stroke="#000" stroke-width="1.25" />
<line x1="504.30" y1="210.80" x2="504.30" y2="215.40" stroke="#000" stroke-width="1.25" />
<text x="0" y="0" font-size="10.9" text-anchor="middle" transform="translate(407.7,116.3) rotate(-90)">% active Caspase-1 (Flica +)</text>
<line x1="445.10" y1="225.70" x2="447.60" y2="223.40" stroke="#000" stroke-width="1.3" />
<text x="0" y="0" font-size="10.7" transform="translate(456.20,241.90) rotate(-45)">ATP</text>
<text x="0" y="0" font-size="10.7" transform="translate(476.00,239.90) rotate(-45)">SiO<tspan font-size="6.6" dy="0.4">2</tspan></text>
<text x="0" y="0" font-size="10.7" transform="translate(497.20,243.20) rotate(-45)">MSU</text>
<circle cx="445.60" cy="14.50" r="3.1" fill="#000" stroke="#000" stroke-width="1.2"/>
<rect x="442.90" y="23.30" width="6.2" height="6.2" fill="#000" stroke="#000" stroke-width="1.2"/>
<polygon points="446.60,35.00 450.60,41.80 442.60,41.80" fill="#000" stroke="#000" stroke-width="1.2" stroke-linejoin="miter"/>
<circle cx="490.60" cy="14.50" r="3.25" fill="#fff" stroke="#000" stroke-width="1.3"/>
<rect x="487.70" y="23.30" width="6.4" height="6.4" fill="#fff" stroke="#000" stroke-width="1.3"/>
<polygon points="490.90,35.75 494.60,42.05 487.20,42.05" fill="#fff" stroke="#000" stroke-width="1.3" stroke-linejoin="miter"/>
<text x="454.50" y="18.20" font-size="10.5" >p22</text>
<text x="454.50" y="30.20" font-size="10.5" >p47</text>
<text x="454.50" y="41.80" font-size="10.5" >gp91</text>
<text x="497.80" y="18.20" font-size="10.5" >C1</text>
<text x="497.80" y="30.20" font-size="10.5" >C2</text>
<text x="497.80" y="41.80" font-size="10.5" >C3</text>
<polygon points="447.50,181.30 450.70,188.30 444.30,188.30" fill="#000" stroke="#000" stroke-width="1.2" stroke-linejoin="miter"/>
<circle cx="447.50" cy="192.60" r="3.3" fill="#000" stroke="#000" stroke-width="1.2"/>
<circle cx="447.50" cy="195.40" r="3.0" fill="#000" stroke="#000" stroke-width="1.2"/>
<rect x="444.20" y="201.10" width="6.6" height="6.6" fill="#fff" stroke="#000" stroke-width="1.2"/>
<rect x="444.20" y="199.30" width="6.6" height="6.6" fill="#000" stroke="#000" stroke-width="1.2"/>
<rect x="463.20" y="97.70" width="6.6" height="6.6" fill="#fff" stroke="#000" stroke-width="1.2"/>
<polygon points="466.50,105.00 469.80,111.00 463.20,111.00" fill="#000" stroke="#000" stroke-width="1.2" stroke-linejoin="miter"/>
<rect x="463.20" y="102.90" width="6.6" height="6.6" fill="#000" stroke="#000" stroke-width="1.2"/>
<circle cx="466.50" cy="94.00" r="3.2" fill="#000" stroke="#000" stroke-width="1.2"/>
<circle cx="466.50" cy="95.60" r="3.2" fill="#000" stroke="#000" stroke-width="1.2"/>
<polygon points="466.50,112.10 469.70,116.30 463.30,116.30" fill="#fff" stroke="#000" stroke-width="1.3" stroke-linejoin="miter"/>
<circle cx="466.50" cy="130.40" r="3.3" fill="#fff" stroke="#000" stroke-width="1.3"/>
<circle cx="485.20" cy="64.00" r="3.2" fill="#000" stroke="#000" stroke-width="1.2"/>
<rect x="481.90" y="66.90" width="6.6" height="6.6" fill="#fff" stroke="#000" stroke-width="1.2"/>
<rect x="481.90" y="78.50" width="6.6" height="6.6" fill="#000" stroke="#000" stroke-width="1.2"/>
<circle cx="485.20" cy="106.20" r="3.3" fill="#fff" stroke="#000" stroke-width="1.3"/>
<rect x="501.00" y="113.60" width="6.6" height="6.6" fill="#fff" stroke="#000" stroke-width="1.2"/>
<rect x="501.00" y="116.40" width="6.6" height="6.6" fill="#000" stroke="#000" stroke-width="1.2"/>
<circle cx="504.30" cy="133.80" r="3.2" fill="#000" stroke="#000" stroke-width="1.2"/>
<circle cx="504.30" cy="147.80" r="3.3" fill="#fff" stroke="#000" stroke-width="1.3"/>
<text x="0.30" y="266.50" font-size="19.5" font-weight="bold" textLength="12.6" lengthAdjust="spacingAndGlyphs" >C</text>
<line x1="37.40" y1="269.40" x2="37.40" y2="388.30" stroke="#000" stroke-width="1.2" />
<line x1="34.20" y1="387.70" x2="193.50" y2="387.70" stroke="#000" stroke-width="1.2" />
<line x1="34.00" y1="362.30" x2="37.40" y2="362.30" stroke="#000" stroke-width="1.2" />
<line x1="34.00" y1="336.90" x2="37.40" y2="336.90" stroke="#000" stroke-width="1.2" />
<line x1="34.00" y1="311.50" x2="37.40" y2="311.50" stroke="#000" stroke-width="1.2" />
<line x1="34.00" y1="286.10" x2="37.40" y2="286.10" stroke="#000" stroke-width="1.2" />
<text x="33.20" y="366.50" font-size="10.3" text-anchor="end" >0.5</text>
<text x="33.20" y="341.10" font-size="10.3" text-anchor="end" >1.0</text>
<text x="33.20" y="315.70" font-size="10.3" text-anchor="end" >1.5</text>
<text x="33.20" y="290.30" font-size="10.3" text-anchor="end" >2.0</text>
<text x="33.00" y="392.00" font-size="10.3" text-anchor="end" >0</text>
<line x1="46.70" y1="387.70" x2="46.70" y2="391.30" stroke="#000" stroke-width="1.2" />
<line x1="61.70" y1="387.70" x2="61.70" y2="391.30" stroke="#000" stroke-width="1.2" />
<line x1="77.50" y1="387.70" x2="77.50" y2="391.30" stroke="#000" stroke-width="1.2" />
<line x1="92.90" y1="387.70" x2="92.90" y2="391.30" stroke="#000" stroke-width="1.2" />
<line x1="107.90" y1="387.70" x2="107.90" y2="391.30" stroke="#000" stroke-width="1.2" />
<line x1="123.50" y1="387.70" x2="123.50" y2="391.30" stroke="#000" stroke-width="1.2" />
<line x1="138.80" y1="387.70" x2="138.80" y2="391.30" stroke="#000" stroke-width="1.2" />
<line x1="154.60" y1="387.70" x2="154.60" y2="391.30" stroke="#000" stroke-width="1.2" />
<line x1="170.40" y1="387.70" x2="170.40" y2="391.30" stroke="#000" stroke-width="1.2" />
<line x1="185.60" y1="387.70" x2="185.60" y2="391.30" stroke="#000" stroke-width="1.2" />
<rect x="42.15" y="384.19" width="3.30" height="3.51" fill="#000" stroke="#000" stroke-width="1.1"/>
<rect x="57.15" y="385.20" width="3.30" height="2.50" fill="#000" stroke="#000" stroke-width="1.1"/>
<rect x="62.95" y="387.23" width="3.30" height="0.47" fill="#fff" stroke="#000" stroke-width="1.1"/>
<line x1="74.60" y1="379.32" x2="74.60" y2="381.10" stroke="#000" stroke-width="1.1" />
<line x1="73.00" y1="379.32" x2="76.20" y2="379.32" stroke="#000" stroke-width="1.1" />
<rect x="72.95" y="381.65" width="3.30" height="6.05" fill="#000" stroke="#000" stroke-width="1.1"/>
<rect x="78.75" y="383.68" width="3.30" height="4.02" fill="#fff" stroke="#000" stroke-width="1.1"/>
<line x1="90.00" y1="314.55" x2="90.00" y2="331.31" stroke="#000" stroke-width="1.1" />
<line x1="88.40" y1="314.55" x2="91.60" y2="314.55" stroke="#000" stroke-width="1.1" />
<rect x="88.35" y="331.86" width="3.30" height="55.84" fill="#000" stroke="#000" stroke-width="1.1"/>
<line x1="95.80" y1="343.00" x2="95.80" y2="348.08" stroke="#000" stroke-width="1.1" />
<line x1="94.20" y1="343.00" x2="97.40" y2="343.00" stroke="#000" stroke-width="1.1" />
<rect x="94.15" y="348.63" width="3.30" height="39.07" fill="#fff" stroke="#000" stroke-width="1.1"/>
<line x1="105.00" y1="377.54" x2="105.00" y2="379.06" stroke="#000" stroke-width="1.1" />
<line x1="103.40" y1="377.54" x2="106.60" y2="377.54" stroke="#000" stroke-width="1.1" />
<rect x="103.35" y="379.61" width="3.30" height="8.09" fill="#000" stroke="#000" stroke-width="1.1"/>
<line x1="110.80" y1="381.60" x2="110.80" y2="383.13" stroke="#000" stroke-width="1.1" />
<line x1="109.20" y1="381.60" x2="112.40" y2="381.60" stroke="#000" stroke-width="1.1" />
<rect x="109.15" y="383.68" width="3.30" height="4.02" fill="#fff" stroke="#000" stroke-width="1.1"/>
<line x1="120.60" y1="289.15" x2="120.60" y2="312.01" stroke="#000" stroke-width="1.1" />
<line x1="119.00" y1="289.15" x2="122.20" y2="289.15" stroke="#000" stroke-width="1.1" />
<rect x="118.95" y="312.56" width="3.30" height="75.14" fill="#000" stroke="#000" stroke-width="1.1"/>
<line x1="126.40" y1="320.64" x2="126.40" y2="325.22" stroke="#000" stroke-width="1.1" />
<line x1="124.80" y1="320.64" x2="128.00" y2="320.64" stroke="#000" stroke-width="1.1" />
<rect x="124.75" y="325.77" width="3.30" height="61.93" fill="#fff" stroke="#000" stroke-width="1.1"/>
<line x1="135.90" y1="332.33" x2="135.90" y2="346.55" stroke="#000" stroke-width="1.1" />
<line x1="134.30" y1="332.33" x2="137.50" y2="332.33" stroke="#000" stroke-width="1.1" />
<rect x="134.25" y="347.10" width="3.30" height="40.60" fill="#000" stroke="#000" stroke-width="1.1"/>
<line x1="141.70" y1="363.82" x2="141.70" y2="364.84" stroke="#000" stroke-width="1.1" />
<line x1="140.10" y1="363.82" x2="143.30" y2="363.82" stroke="#000" stroke-width="1.1" />
<rect x="140.05" y="365.39" width="3.30" height="22.31" fill="#fff" stroke="#000" stroke-width="1.1"/>
<line x1="151.70" y1="283.56" x2="151.70" y2="300.32" stroke="#000" stroke-width="1.1" />
<line x1="150.10" y1="283.56" x2="153.30" y2="283.56" stroke="#000" stroke-width="1.1" />
<rect x="150.05" y="300.87" width="3.30" height="86.83" fill="#000" stroke="#000" stroke-width="1.1"/>
<line x1="157.50" y1="333.85" x2="157.50" y2="337.92" stroke="#000" stroke-width="1.1" />
<line x1="155.90" y1="333.85" x2="159.10" y2="333.85" stroke="#000" stroke-width="1.1" />
<rect x="155.85" y="338.47" width="3.30" height="49.23" fill="#fff" stroke="#000" stroke-width="1.1"/>
<line x1="167.50" y1="373.98" x2="167.50" y2="377.54" stroke="#000" stroke-width="1.1" />
<line x1="165.90" y1="373.98" x2="169.10" y2="373.98" stroke="#000" stroke-width="1.1" />
<rect x="165.85" y="378.09" width="3.30" height="9.61" fill="#000" stroke="#000" stroke-width="1.1"/>
<rect x="171.65" y="380.38" width="3.30" height="7.32" fill="#fff" stroke="#000" stroke-width="1.1"/>
<line x1="182.70" y1="347.06" x2="182.70" y2="355.19" stroke="#000" stroke-width="1.1" />
<line x1="181.10" y1="347.06" x2="184.30" y2="347.06" stroke="#000" stroke-width="1.1" />
<rect x="181.05" y="355.74" width="3.30" height="31.96" fill="#000" stroke="#000" stroke-width="1.1"/>
<line x1="188.50" y1="365.35" x2="188.50" y2="367.89" stroke="#000" stroke-width="1.1" />
<line x1="186.90" y1="365.35" x2="190.10" y2="365.35" stroke="#000" stroke-width="1.1" />
<rect x="186.85" y="368.44" width="3.30" height="19.26" fill="#fff" stroke="#000" stroke-width="1.1"/>
<rect x="41.80" y="270.70" width="6.6" height="6.6" fill="#000" stroke="#000" stroke-width="1.2"/>
<rect x="41.90" y="281.80" width="6.4" height="6.4" fill="#fff" stroke="#000" stroke-width="1.3"/>
<text x="52.70" y="277.50" font-size="10.5" >p22</text>
<text x="52.70" y="288.40" font-size="10.5" >C1</text>
<text x="46.10" y="406.70" font-size="10.3" text-anchor="middle" >0</text>
<text x="61.70" y="406.70" font-size="10.3" text-anchor="middle" >6</text>
<text x="79.30" y="406.70" font-size="10.3" text-anchor="middle" >0.5</text>
<text x="91.70" y="406.70" font-size="10.3" text-anchor="middle" >1</text>
<text x="109.70" y="406.70" font-size="10.3" text-anchor="middle" >0.5</text>
<text x="122.30" y="406.70" font-size="10.3" text-anchor="middle" >1</text>
<text x="139.40" y="406.70" font-size="10.3" text-anchor="middle" >3</text>
<text x="155.10" y="406.70" font-size="10.3" text-anchor="middle" >6</text>
<text x="171.10" y="406.70" font-size="10.3" text-anchor="middle" >3</text>
<text x="184.70" y="406.70" font-size="10.3" text-anchor="middle" >6</text>
<line x1="41.30" y1="413.70" x2="66.90" y2="413.70" stroke="#000" stroke-width="1.35" />
<text x="55.60" y="427.70" font-size="10.3" text-anchor="middle" >-</text>
<line x1="71.00" y1="413.70" x2="98.30" y2="413.70" stroke="#000" stroke-width="1.35" />
<text x="84.65" y="428.10" font-size="10.3" text-anchor="middle" >ATP</text>
<line x1="102.30" y1="413.70" x2="129.50" y2="413.70" stroke="#000" stroke-width="1.35" />
<text x="115.90" y="428.10" font-size="10.3" text-anchor="middle" >NI</text>
<line x1="133.00" y1="413.70" x2="160.50" y2="413.70" stroke="#000" stroke-width="1.35" />
<text x="147.25" y="428.10" font-size="10.3" text-anchor="middle">SiO<tspan font-size="6.6" dy="0.4">2</tspan></text>
<line x1="164.00" y1="413.70" x2="191.50" y2="413.70" stroke="#000" stroke-width="1.35" />
<text x="177.75" y="428.10" font-size="10.3" text-anchor="middle" >MSU</text>
<text x="1.50" y="406.60" font-size="10.5" textLength="34.5" lengthAdjust="spacingAndGlyphs" >Time (h)</text>
<text x="0" y="0" font-size="10.7" text-anchor="middle" transform="translate(10.8,333.5) rotate(-90)">IL-1β release (ng/mL)</text>
<text x="194.60" y="265.70" font-size="19.5" font-weight="bold" textLength="12.6" lengthAdjust="spacingAndGlyphs" >D</text>
<line x1="212.30" y1="269.40" x2="212.30" y2="387.90" stroke="#000" stroke-width="1.2" />
<line x1="209.10" y1="387.30" x2="340.90" y2="387.30" stroke="#000" stroke-width="1.2" />
<line x1="208.90" y1="361.00" x2="212.30" y2="361.00" stroke="#000" stroke-width="1.2" />
<line x1="208.90" y1="334.70" x2="212.30" y2="334.70" stroke="#000" stroke-width="1.2" />
<line x1="208.90" y1="308.40" x2="212.30" y2="308.40" stroke="#000" stroke-width="1.2" />
<line x1="208.90" y1="282.10" x2="212.30" y2="282.10" stroke="#000" stroke-width="1.2" />
<line x1="222.40" y1="387.30" x2="222.40" y2="390.90" stroke="#000" stroke-width="1.2" />
<line x1="236.20" y1="387.30" x2="236.20" y2="390.90" stroke="#000" stroke-width="1.2" />
<line x1="251.80" y1="387.30" x2="251.80" y2="390.90" stroke="#000" stroke-width="1.2" />
<line x1="267.60" y1="387.30" x2="267.60" y2="390.90" stroke="#000" stroke-width="1.2" />
<line x1="283.40" y1="387.30" x2="283.40" y2="390.90" stroke="#000" stroke-width="1.2" />
<line x1="299.00" y1="387.30" x2="299.00" y2="390.90" stroke="#000" stroke-width="1.2" />
<line x1="314.90" y1="387.30" x2="314.90" y2="390.90" stroke="#000" stroke-width="1.2" />
<line x1="330.80" y1="387.30" x2="330.80" y2="390.90" stroke="#000" stroke-width="1.2" />
<rect x="217.85" y="387.06" width="3.30" height="0.30" fill="#000" stroke="#000" stroke-width="1.1"/>
<rect x="231.65" y="384.17" width="3.30" height="3.13" fill="#000" stroke="#000" stroke-width="1.1"/>
<rect x="237.45" y="385.22" width="3.30" height="2.08" fill="#fff" stroke="#000" stroke-width="1.1"/>
<line x1="248.90" y1="369.94" x2="248.90" y2="372.05" stroke="#000" stroke-width="1.1" />
<line x1="247.30" y1="369.94" x2="250.50" y2="369.94" stroke="#000" stroke-width="1.1" />
<rect x="247.25" y="372.60" width="3.30" height="14.70" fill="#000" stroke="#000" stroke-width="1.1"/>
<line x1="254.70" y1="367.31" x2="254.70" y2="369.42" stroke="#000" stroke-width="1.1" />
<line x1="253.10" y1="367.31" x2="256.30" y2="367.31" stroke="#000" stroke-width="1.1" />
<rect x="253.05" y="369.97" width="3.30" height="17.33" fill="#fff" stroke="#000" stroke-width="1.1"/>
<line x1="264.70" y1="285.78" x2="264.70" y2="289.99" stroke="#000" stroke-width="1.1" />
<line x1="263.10" y1="285.78" x2="266.30" y2="285.78" stroke="#000" stroke-width="1.1" />
<rect x="263.05" y="290.54" width="3.30" height="96.76" fill="#000" stroke="#000" stroke-width="1.1"/>
<line x1="270.50" y1="291.04" x2="270.50" y2="296.83" stroke="#000" stroke-width="1.1" />
<line x1="268.90" y1="291.04" x2="272.10" y2="291.04" stroke="#000" stroke-width="1.1" />
<rect x="268.85" y="297.38" width="3.30" height="89.92" fill="#fff" stroke="#000" stroke-width="1.1"/>
<line x1="280.50" y1="357.32" x2="280.50" y2="358.11" stroke="#000" stroke-width="1.1" />
<line x1="278.90" y1="357.32" x2="282.10" y2="357.32" stroke="#000" stroke-width="1.1" />
<rect x="278.85" y="358.66" width="3.30" height="28.64" fill="#000" stroke="#000" stroke-width="1.1"/>
<line x1="286.30" y1="353.64" x2="286.30" y2="357.32" stroke="#000" stroke-width="1.1" />
<line x1="284.70" y1="353.64" x2="287.90" y2="353.64" stroke="#000" stroke-width="1.1" />
<rect x="284.65" y="357.87" width="3.30" height="29.43" fill="#fff" stroke="#000" stroke-width="1.1"/>
<line x1="296.10" y1="300.51" x2="296.10" y2="302.61" stroke="#000" stroke-width="1.1" />
<line x1="294.50" y1="300.51" x2="297.70" y2="300.51" stroke="#000" stroke-width="1.1" />
<rect x="294.45" y="303.16" width="3.30" height="84.14" fill="#000" stroke="#000" stroke-width="1.1"/>
<line x1="301.90" y1="322.60" x2="301.90" y2="327.34" stroke="#000" stroke-width="1.1" />
<line x1="300.30" y1="322.60" x2="303.50" y2="322.60" stroke="#000" stroke-width="1.1" />
<rect x="300.25" y="327.89" width="3.30" height="59.41" fill="#fff" stroke="#000" stroke-width="1.1"/>
<rect x="310.35" y="374.70" width="3.30" height="12.60" fill="#000" stroke="#000" stroke-width="1.1"/>
<rect x="316.15" y="378.38" width="3.30" height="8.92" fill="#fff" stroke="#000" stroke-width="1.1"/>
<line x1="327.90" y1="361.00" x2="327.90" y2="364.16" stroke="#000" stroke-width="1.1" />
<line x1="326.30" y1="361.00" x2="329.50" y2="361.00" stroke="#000" stroke-width="1.1" />
<rect x="326.25" y="364.71" width="3.30" height="22.59" fill="#000" stroke="#000" stroke-width="1.1"/>
<line x1="333.70" y1="368.36" x2="333.70" y2="370.47" stroke="#000" stroke-width="1.1" />
<line x1="332.10" y1="368.36" x2="335.30" y2="368.36" stroke="#000" stroke-width="1.1" />
<rect x="332.05" y="371.02" width="3.30" height="16.28" fill="#fff" stroke="#000" stroke-width="1.1"/>
<rect x="216.30" y="270.70" width="6.6" height="6.6" fill="#000" stroke="#000" stroke-width="1.2"/>
<rect x="216.40" y="281.80" width="6.4" height="6.4" fill="#fff" stroke="#000" stroke-width="1.3"/>
<text x="227.20" y="277.50" font-size="10.5" >p47</text>
<text x="227.20" y="288.40" font-size="10.5" >C2</text>
<text x="222.40" y="406.20" font-size="10.3" text-anchor="middle" >0</text>
<text x="237.70" y="406.20" font-size="10.3" text-anchor="middle" >6</text>
<text x="255.20" y="406.20" font-size="10.3" text-anchor="middle" textLength="12.7" lengthAdjust="spacingAndGlyphs" >0.5</text>
<text x="266.80" y="406.20" font-size="10.3" text-anchor="middle" >1</text>
<text x="283.40" y="406.20" font-size="10.3" text-anchor="middle" >3</text>
<text x="299.00" y="406.20" font-size="10.3" text-anchor="middle" >6</text>
<text x="315.40" y="406.20" font-size="10.3" text-anchor="middle" >3</text>
<text x="330.80" y="406.20" font-size="10.3" text-anchor="middle" >6</text>
<line x1="217.90" y1="412.50" x2="243.60" y2="412.50" stroke="#000" stroke-width="1.35" />
<text x="232.25" y="426.40" font-size="10.3" text-anchor="middle" >-</text>
<line x1="246.70" y1="412.50" x2="275.50" y2="412.50" stroke="#000" stroke-width="1.35" />
<text x="261.10" y="426.80" font-size="10.3" text-anchor="middle" >ATP</text>
<line x1="278.20" y1="412.50" x2="306.50" y2="412.50" stroke="#000" stroke-width="1.35" />
<text x="292.85" y="426.80" font-size="10.3" text-anchor="middle">SiO<tspan font-size="6.6" dy="0.4">2</tspan></text>
<line x1="309.50" y1="412.50" x2="337.50" y2="412.50" stroke="#000" stroke-width="1.35" />
<text x="323.50" y="426.80" font-size="10.3" text-anchor="middle" >MSU</text>
<text x="341.90" y="265.40" font-size="19.0" font-weight="bold" textLength="11.9" lengthAdjust="spacingAndGlyphs" >E</text>
<line x1="361.30" y1="268.40" x2="361.30" y2="388.40" stroke="#000" stroke-width="1.2" />
<line x1="358.10" y1="387.80" x2="520.00" y2="387.80" stroke="#000" stroke-width="1.2" />
<line x1="357.90" y1="362.20" x2="361.30" y2="362.20" stroke="#000" stroke-width="1.2" />
<line x1="357.90" y1="336.60" x2="361.30" y2="336.60" stroke="#000" stroke-width="1.2" />
<line x1="357.90" y1="311.00" x2="361.30" y2="311.00" stroke="#000" stroke-width="1.2" />
<line x1="357.90" y1="285.40" x2="361.30" y2="285.40" stroke="#000" stroke-width="1.2" />
<line x1="370.40" y1="387.80" x2="370.40" y2="391.40" stroke="#000" stroke-width="1.2" />
<line x1="385.60" y1="387.80" x2="385.60" y2="391.40" stroke="#000" stroke-width="1.2" />
<line x1="401.10" y1="387.80" x2="401.10" y2="391.40" stroke="#000" stroke-width="1.2" />
<line x1="416.20" y1="387.80" x2="416.20" y2="391.40" stroke="#000" stroke-width="1.2" />
<line x1="431.50" y1="387.80" x2="431.50" y2="391.40" stroke="#000" stroke-width="1.2" />
<line x1="447.00" y1="387.80" x2="447.00" y2="391.40" stroke="#000" stroke-width="1.2" />
<line x1="462.60" y1="387.80" x2="462.60" y2="391.40" stroke="#000" stroke-width="1.2" />
<line x1="478.30" y1="387.80" x2="478.30" y2="391.40" stroke="#000" stroke-width="1.2" />
<line x1="493.60" y1="387.80" x2="493.60" y2="391.40" stroke="#000" stroke-width="1.2" />
<line x1="509.30" y1="387.80" x2="509.30" y2="391.40" stroke="#000" stroke-width="1.2" />
<rect x="365.85" y="387.58" width="3.30" height="0.30" fill="#000" stroke="#000" stroke-width="1.1"/>
<rect x="381.05" y="387.58" width="3.30" height="0.30" fill="#000" stroke="#000" stroke-width="1.1"/>
<rect x="386.85" y="387.07" width="3.30" height="0.73" fill="#fff" stroke="#000" stroke-width="1.1"/>
<rect x="396.55" y="387.58" width="3.30" height="0.30" fill="#000" stroke="#000" stroke-width="1.1"/>
<line x1="404.00" y1="367.83" x2="404.00" y2="379.10" stroke="#000" stroke-width="1.1" />
<line x1="402.40" y1="367.83" x2="405.60" y2="367.83" stroke="#000" stroke-width="1.1" />
<rect x="402.35" y="379.65" width="3.30" height="8.15" fill="#fff" stroke="#000" stroke-width="1.1"/>
<line x1="413.30" y1="322.26" x2="413.30" y2="326.87" stroke="#000" stroke-width="1.1" />
<line x1="411.70" y1="322.26" x2="414.90" y2="322.26" stroke="#000" stroke-width="1.1" />
<rect x="411.65" y="327.42" width="3.30" height="60.38" fill="#000" stroke="#000" stroke-width="1.1"/>
<line x1="419.10" y1="324.82" x2="419.10" y2="333.02" stroke="#000" stroke-width="1.1" />
<line x1="417.50" y1="324.82" x2="420.70" y2="324.82" stroke="#000" stroke-width="1.1" />
<rect x="417.45" y="333.57" width="3.30" height="54.23" fill="#fff" stroke="#000" stroke-width="1.1"/>
<line x1="428.60" y1="356.57" x2="428.60" y2="366.81" stroke="#000" stroke-width="1.1" />
<line x1="427.00" y1="356.57" x2="430.20" y2="356.57" stroke="#000" stroke-width="1.1" />
<rect x="426.95" y="367.36" width="3.30" height="20.44" fill="#000" stroke="#000" stroke-width="1.1"/>
<line x1="434.40" y1="365.78" x2="434.40" y2="370.90" stroke="#000" stroke-width="1.1" />
<line x1="432.80" y1="365.78" x2="436.00" y2="365.78" stroke="#000" stroke-width="1.1" />
<rect x="432.75" y="371.45" width="3.30" height="16.35" fill="#fff" stroke="#000" stroke-width="1.1"/>
<line x1="444.10" y1="277.72" x2="444.10" y2="297.18" stroke="#000" stroke-width="1.1" />
<line x1="442.50" y1="277.72" x2="445.70" y2="277.72" stroke="#000" stroke-width="1.1" />
<rect x="442.45" y="297.73" width="3.30" height="90.07" fill="#000" stroke="#000" stroke-width="1.1"/>
<line x1="449.90" y1="280.79" x2="449.90" y2="291.54" stroke="#000" stroke-width="1.1" />
<line x1="448.30" y1="280.79" x2="451.50" y2="280.79" stroke="#000" stroke-width="1.1" />
<rect x="448.25" y="292.09" width="3.30" height="95.71" fill="#fff" stroke="#000" stroke-width="1.1"/>
<line x1="459.70" y1="378.58" x2="459.70" y2="381.14" stroke="#000" stroke-width="1.1" />
<line x1="458.10" y1="378.58" x2="461.30" y2="378.58" stroke="#000" stroke-width="1.1" />
<rect x="458.05" y="381.69" width="3.30" height="6.11" fill="#000" stroke="#000" stroke-width="1.1"/>
<line x1="465.50" y1="369.88" x2="465.50" y2="376.54" stroke="#000" stroke-width="1.1" />
<line x1="463.90" y1="369.88" x2="467.10" y2="369.88" stroke="#000" stroke-width="1.1" />
<rect x="463.85" y="377.09" width="3.30" height="10.71" fill="#fff" stroke="#000" stroke-width="1.1"/>
<line x1="475.40" y1="307.93" x2="475.40" y2="311.51" stroke="#000" stroke-width="1.1" />
<line x1="473.80" y1="307.93" x2="477.00" y2="307.93" stroke="#000" stroke-width="1.1" />
<rect x="473.75" y="312.06" width="3.30" height="75.74" fill="#000" stroke="#000" stroke-width="1.1"/>
<line x1="481.20" y1="295.13" x2="481.20" y2="317.14" stroke="#000" stroke-width="1.1" />
<line x1="479.60" y1="295.13" x2="482.80" y2="295.13" stroke="#000" stroke-width="1.1" />
<rect x="479.55" y="317.69" width="3.30" height="70.11" fill="#fff" stroke="#000" stroke-width="1.1"/>
<rect x="489.05" y="387.58" width="3.30" height="0.30" fill="#000" stroke="#000" stroke-width="1.1"/>
<rect x="494.85" y="387.58" width="3.30" height="0.30" fill="#fff" stroke="#000" stroke-width="1.1"/>
<line x1="506.40" y1="357.59" x2="506.40" y2="359.64" stroke="#000" stroke-width="1.1" />
<line x1="504.80" y1="357.59" x2="508.00" y2="357.59" stroke="#000" stroke-width="1.1" />
<rect x="504.75" y="360.19" width="3.30" height="27.61" fill="#000" stroke="#000" stroke-width="1.1"/>
<rect x="510.55" y="356.61" width="3.30" height="31.19" fill="#fff" stroke="#000" stroke-width="1.1"/>
<rect x="364.90" y="270.10" width="6.6" height="6.6" fill="#000" stroke="#000" stroke-width="1.2"/>
<rect x="365.00" y="281.20" width="6.4" height="6.4" fill="#fff" stroke="#000" stroke-width="1.3"/>
<text x="375.80" y="276.90" font-size="10.5" >gp91</text>
<text x="375.80" y="287.80" font-size="10.5" >C3</text>
<text x="370.00" y="406.90" font-size="10.3" text-anchor="middle" >0</text>
<text x="385.90" y="406.90" font-size="10.3" text-anchor="middle" >6</text>
<text x="403.20" y="406.90" font-size="10.3" text-anchor="middle" textLength="12.7" lengthAdjust="spacingAndGlyphs" >0.5</text>
<text x="415.40" y="406.90" font-size="10.3" text-anchor="middle" >1</text>
<text x="432.30" y="406.90" font-size="10.3" text-anchor="middle" textLength="12.7" lengthAdjust="spacingAndGlyphs" >0.5</text>
<text x="447.00" y="406.90" font-size="10.3" text-anchor="middle" >1</text>
<text x="462.60" y="406.90" font-size="10.3" text-anchor="middle" >3</text>
<text x="478.30" y="406.90" font-size="10.3" text-anchor="middle" >6</text>
<text x="495.40" y="406.90" font-size="10.3" text-anchor="middle" >3</text>
<text x="508.60" y="406.90" font-size="10.3" text-anchor="middle" >6</text>
<line x1="365.30" y1="413.20" x2="390.90" y2="413.20" stroke="#000" stroke-width="1.35" />
<text x="379.60" y="427.10" font-size="10.3" text-anchor="middle" >-</text>
<line x1="394.80" y1="413.20" x2="421.50" y2="413.20" stroke="#000" stroke-width="1.35" />
<text x="408.15" y="427.50" font-size="10.3" text-anchor="middle" >ATP</text>
<line x1="426.20" y1="413.20" x2="453.20" y2="413.20" stroke="#000" stroke-width="1.35" />
<text x="439.70" y="427.50" font-size="10.3" text-anchor="middle" >NI</text>
<line x1="457.50" y1="413.20" x2="484.60" y2="413.20" stroke="#000" stroke-width="1.35" />
<text x="471.55" y="427.50" font-size="10.3" text-anchor="middle">SiO<tspan font-size="6.6" dy="0.4">2</tspan></text>
<line x1="488.60" y1="413.20" x2="518.50" y2="413.20" stroke="#000" stroke-width="1.35" />
<text x="503.55" y="427.50" font-size="10.3" text-anchor="middle" >MSU</text>
</svg>
</body></html>
